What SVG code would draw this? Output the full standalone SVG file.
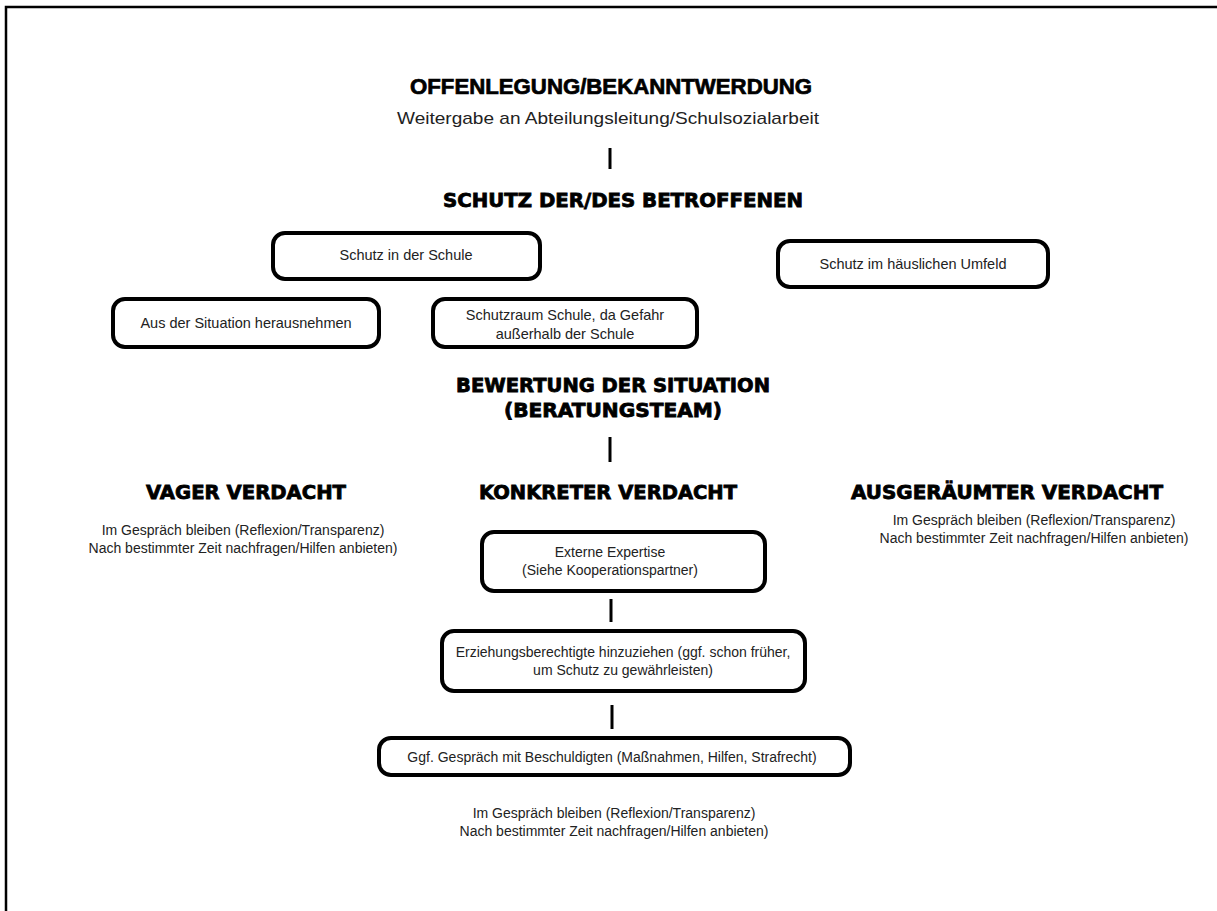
<svg xmlns="http://www.w3.org/2000/svg" width="1217" height="911" viewBox="0 0 1217 911">
<style>
.h1{font-family:"Liberation Sans",Arial,sans-serif;font-weight:bold;font-size:22px;fill:#000;stroke:#000;stroke-width:0.7;text-anchor:middle}
.h2{font-family:"DejaVu Sans","Liberation Sans",sans-serif;font-weight:bold;font-size:19px;fill:#000;stroke:#000;stroke-width:0.8;text-anchor:middle}
.sub{font-family:"Liberation Sans",Arial,sans-serif;font-size:17px;fill:#222;text-anchor:middle}
.t{font-family:"Liberation Sans",Arial,sans-serif;font-size:14.5px;fill:#222;text-anchor:middle}
.s{font-family:"Liberation Sans",Arial,sans-serif;font-size:14px;fill:#222;text-anchor:middle}
.box{fill:#fff;stroke:#000;stroke-width:4}
.ln{stroke:#000;stroke-width:3}
</style>
<rect x="0" y="0" width="1217" height="911" fill="#fff"/>
<path d="M6,911 V7 H1217" fill="none" stroke="#000" stroke-width="2.5"/>
<g id="offenlegung">
<text class="h1" x="611" y="94" textLength="402" lengthAdjust="spacingAndGlyphs">OFFENLEGUNG/BEKANNTWERDUNG</text>
<text class="sub" x="608" y="124" textLength="422" lengthAdjust="spacingAndGlyphs">Weitergabe an Abteilungsleitung/Schulsozialarbeit</text>
</g>
<g id="schutz">
<text class="h2" x="623" y="207" textLength="360" lengthAdjust="spacingAndGlyphs">SCHUTZ DER/DES BETROFFENEN</text>
</g>
<g id="schule">
<rect class="box" x="273" y="233" width="267" height="46" rx="12"/>
<text class="t" x="406" y="260">Schutz in der Schule</text>
</g>
<g id="haeuslich">
<rect class="box" x="778" y="241" width="270" height="46" rx="12"/>
<text class="t" x="913" y="269">Schutz im häuslichen Umfeld</text>
</g>
<g id="herausnehmen">
<rect class="box" x="113" y="299" width="266" height="48" rx="12"/>
<text class="t" x="246" y="328">Aus der Situation herausnehmen</text>
</g>
<g id="schutzraum">
<rect class="box" x="433" y="299" width="264" height="48" rx="12"/>
<text class="t" x="565" y="320">Schutzraum Schule, da Gefahr</text>
<text class="t" x="565" y="339">außerhalb der Schule</text>
</g>
<g id="bewertung">
<text class="h2" x="613" y="392" textLength="314" lengthAdjust="spacingAndGlyphs">BEWERTUNG DER SITUATION</text>
<text class="h2" x="613" y="417" textLength="218" lengthAdjust="spacingAndGlyphs">(BERATUNGSTEAM)</text>
</g>
<g id="vager">
<text class="h2" x="246" y="499" textLength="200" lengthAdjust="spacingAndGlyphs">VAGER VERDACHT</text>
<text class="s" x="243" y="535">Im Gespräch bleiben (Reflexion/Transparenz)</text>
<text class="s" x="243" y="553">Nach bestimmter Zeit nachfragen/Hilfen anbieten)</text>
</g>
<g id="konkret">
<text class="h2" x="608" y="499" textLength="258" lengthAdjust="spacingAndGlyphs">KONKRETER VERDACHT</text>
</g>
<g id="ausgeraeumt">
<text class="h2" x="1007" y="499" textLength="312" lengthAdjust="spacingAndGlyphs">AUSGERÄUMTER VERDACHT</text>
<text class="s" x="1034" y="525">Im Gespräch bleiben (Reflexion/Transparenz)</text>
<text class="s" x="1034" y="543">Nach bestimmter Zeit nachfragen/Hilfen anbieten)</text>
</g>
<g id="extern">
<rect class="box" x="482" y="532" width="283" height="59" rx="12"/>
<text class="s" x="610" y="557">Externe Expertise</text>
<text class="s" x="610" y="575">(Siehe Kooperationspartner)</text>
</g>
<g id="erziehung">
<rect class="box" x="442" y="631" width="363" height="60" rx="12"/>
<text class="s" x="623" y="657">Erziehungsberechtigte hinzuziehen (ggf. schon früher,</text>
<text class="s" x="623" y="675">um Schutz zu gewährleisten)</text>
</g>
<g id="beschuldigte">
<rect class="box" x="379" y="738" width="471" height="37" rx="12"/>
<text class="s" x="612" y="762">Ggf. Gespräch mit Beschuldigten (Maßnahmen, Hilfen, Strafrecht)</text>
</g>
<g id="abschluss">
<text class="s" x="614" y="818">Im Gespräch bleiben (Reflexion/Transparenz)</text>
<text class="s" x="614" y="836">Nach bestimmter Zeit nachfragen/Hilfen anbieten)</text>
</g>
<g id="connectors">
<line class="ln" x1="610" y1="148" x2="610" y2="169"/>
<line class="ln" x1="610" y1="437" x2="610" y2="462"/>
<line class="ln" x1="611" y1="599" x2="611" y2="622"/>
<line class="ln" x1="612" y1="705" x2="612" y2="729"/>
</g>
</svg>
